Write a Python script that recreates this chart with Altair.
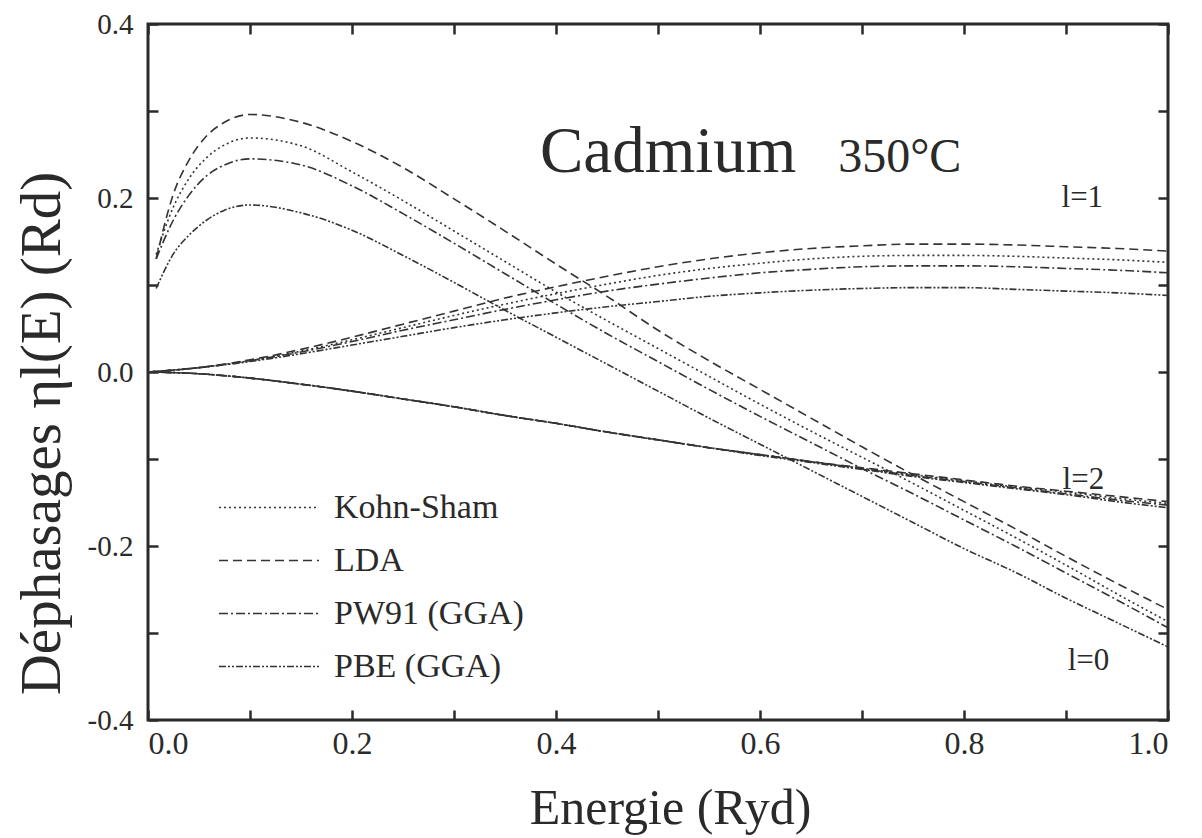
import altair as alt
import pandas as pd

FONT = "Liberation Serif"
INK = "#2a2a2a"

methods = ["Kohn-Sham", "LDA", "PW91 (GGA)", "PBE (GGA)"]
dash_patterns = [[2, 3], [9, 5], [9, 3, 2, 3], [7, 2, 2, 2, 2, 2]]

# energy grids (Ryd)
E_l0 = [0.008, 0.025, 0.04, 0.058, 0.075, 0.1, 0.15, 0.2, 0.25, 0.3, 0.35, 0.4,
        0.45, 0.5, 0.55, 0.6, 0.65, 0.7, 0.75, 0.8, 0.85, 0.9, 0.95, 1.0]
E_grid = [0.0, 0.05, 0.1, 0.15, 0.2, 0.25, 0.3, 0.35, 0.4, 0.45, 0.5, 0.55,
          0.6, 0.65, 0.7, 0.75, 0.8, 0.85, 0.9, 0.95, 1.0]

# l = 0 phase shifts
KS_l0 = [0.135, 0.19, 0.222, 0.247, 0.261, 0.269, 0.26, 0.23, 0.197, 0.162, 0.127, 0.092,
         0.059, 0.027, -0.005, -0.037, -0.068, -0.098, -0.128, -0.159, -0.19, -0.222, -0.255, -0.287]
LDA_l0 = [0.13, 0.205, 0.243, 0.272, 0.287, 0.296, 0.287, 0.265, 0.235, 0.199, 0.162, 0.124,
          0.087, 0.048, 0.013, -0.02, -0.053, -0.086, -0.118, -0.149, -0.18, -0.212, -0.243, -0.273]
PW91_l0 = [0.13, 0.175, 0.203, 0.226, 0.238, 0.245, 0.238, 0.214, 0.182, 0.148, 0.113, 0.078,
           0.044, 0.012, -0.02, -0.051, -0.081, -0.111, -0.14, -0.17, -0.2, -0.231, -0.262, -0.294]
PBE_l0 = [0.096, 0.136, 0.157, 0.175, 0.186, 0.192, 0.183, 0.163, 0.134, 0.103, 0.071, 0.04,
          0.009, -0.022, -0.053, -0.083, -0.113, -0.143, -0.173, -0.203, -0.23, -0.26, -0.288, -0.316]

# l = 1 phase shifts
KS_l1 = [0, 0.005, 0.013, 0.024, 0.037, 0.051, 0.065, 0.078, 0.09, 0.101, 0.111, 0.119,
         0.125, 0.13, 0.133, 0.134, 0.134, 0.133, 0.131, 0.129, 0.126]
LDA_l1 = [0, 0.005, 0.014, 0.026, 0.04, 0.055, 0.07, 0.085, 0.098, 0.11, 0.121, 0.13,
          0.137, 0.142, 0.145, 0.147, 0.147, 0.146, 0.144, 0.142, 0.139]
PW91_l1 = [0, 0.005, 0.013, 0.023, 0.035, 0.048, 0.06, 0.072, 0.083, 0.093, 0.101, 0.108,
           0.114, 0.118, 0.121, 0.122, 0.122, 0.121, 0.119, 0.117, 0.114]
PBE_l1 = [0, 0.005, 0.012, 0.021, 0.031, 0.041, 0.051, 0.06, 0.068, 0.075, 0.081, 0.087,
          0.091, 0.094, 0.096, 0.097, 0.097, 0.095, 0.093, 0.091, 0.088]

# l = 2 phase shifts
KS_l2 = [0, -0.002, -0.007, -0.014, -0.022, -0.031, -0.04, -0.05, -0.059, -0.069, -0.078, -0.087,
         -0.095, -0.103, -0.111, -0.118, -0.125, -0.132, -0.138, -0.145, -0.151]
LDA_l2 = [0, -0.002, -0.007, -0.014, -0.022, -0.031, -0.04, -0.05, -0.059, -0.069, -0.078, -0.087,
          -0.095, -0.103, -0.11, -0.117, -0.124, -0.131, -0.137, -0.143, -0.149]
PW91_l2 = [0, -0.002, -0.007, -0.014, -0.022, -0.031, -0.04, -0.05, -0.059, -0.069, -0.078, -0.087,
           -0.095, -0.103, -0.111, -0.119, -0.126, -0.133, -0.14, -0.147, -0.153]
PBE_l2 = [0, -0.002, -0.007, -0.014, -0.022, -0.031, -0.04, -0.05, -0.059, -0.069, -0.078, -0.087,
          -0.096, -0.104, -0.112, -0.12, -0.127, -0.134, -0.141, -0.149, -0.156]

series = {
    "Kohn-Sham": (KS_l0, KS_l1, KS_l2),
    "LDA": (LDA_l0, LDA_l1, LDA_l2),
    "PW91 (GGA)": (PW91_l0, PW91_l1, PW91_l2),
    "PBE (GGA)": (PBE_l0, PBE_l1, PBE_l2),
}

rows = []
for m, (s0, s1, s2) in series.items():
    for e, v in zip(E_l0, s0):
        rows.append({"method": m, "l": "l=0", "E": e, "phase": v})
    for e, v in zip(E_grid, s1):
        rows.append({"method": m, "l": "l=1", "E": e, "phase": v})
    for e, v in zip(E_grid, s2):
        rows.append({"method": m, "l": "l=2", "E": e, "phase": v})
df = pd.DataFrame(rows)

# annotations
ann_text = ["Cadmium", "350°C", "l=1", "l=2", "l=0"]
ann_E = [0.51, 0.737, 0.916, 0.917, 0.922]
ann_phase = [0.23, 0.23, 0.19, -0.134, -0.342]
ann_size = [65, 48, 31, 31, 31]
ann = pd.DataFrame({"text": ann_text, "E": ann_E, "phase": ann_phase, "fs": ann_size})

x_ticks = [round(i * 0.1, 1) for i in range(11)]
y_ticks = [round(-0.4 + i * 0.1, 1) for i in range(9)]

x_scale = alt.Scale(domain=[0, 1], nice=False, zero=False)
y_scale = alt.Scale(domain=[-0.4, 0.4], nice=False, zero=False)

label_expr = ("round(datum.value*10) % 2 == 0 ? "
              "(datum.value < -0.001 ? '-' : '') + format(abs(datum.value), '.1f') : ''")

tick_style = dict(tickSize=10, tickWidth=2.5, tickColor=INK, domain=False, grid=False, offset=-10)

lines = alt.Chart(df).mark_line(strokeWidth=1.6, color="#333", interpolate="monotone").encode(
    x=alt.X("E:Q", scale=x_scale, axis=alt.Axis(
        orient="bottom", values=x_ticks, labelExpr=label_expr,
        labelFont=FONT, labelFontSize=32, labelColor=INK, labelPadding=8,
        title="Energie (Ryd)", titleFont=FONT, titleFontSize=50, titleFontWeight="normal",
        titleColor=INK, titleX=522, titleY=98, titleBaseline="middle", titleAlign="center",
        **tick_style)),
    y=alt.Y("phase:Q", scale=y_scale, axis=alt.Axis(
        orient="left", values=y_ticks, labelExpr=label_expr,
        labelFont=FONT, labelFontSize=29, labelColor=INK, labelPadding=15,
        title="Déphasages ηl(E) (Rd)", titleFont=FONT, titleFontSize=57, titleFontWeight="normal",
        titleColor=INK, titleX=-116, titleY=409, titleAngle=-90, titleBaseline="middle",
        titleAlign="center", **tick_style)),
    strokeDash=alt.StrokeDash("method:N", sort=methods,
                              scale=alt.Scale(domain=methods, range=dash_patterns),
                              legend=alt.Legend(orient="none", legendX=70, legendY=457, title=None,
                                                symbolType="stroke", symbolSize=10000,
                                                symbolStrokeWidth=1.6, symbolStrokeColor="#333",
                                                labelFont=FONT, labelFontSize=34, labelColor=INK,
                                                labelOffset=14, clipHeight=53, rowPadding=0,
                                                padding=0, labelLimit=400)),
    detail="l:N",
)

mirror = alt.Chart(df).mark_line(opacity=0).encode(
    x=alt.X("E:Q", scale=x_scale, axis=alt.Axis(orient="top", values=x_ticks, labels=False,
                                                title=None, **tick_style)),
    y=alt.Y("phase:Q", scale=y_scale, axis=alt.Axis(orient="right", values=y_ticks, labels=False,
                                                    title=None, **tick_style)),
    detail="l:N",
    strokeDash=alt.StrokeDash("method:N", legend=None),
)

texts = alt.Chart(ann).mark_text(font=FONT, align="center", baseline="alphabetic", color=INK).encode(
    x=alt.X("E:Q", scale=x_scale, axis=None),
    y=alt.Y("phase:Q", scale=y_scale, axis=None),
    text="text:N",
    size=alt.Size("fs:Q", scale=None, legend=None),
)

chart = alt.layer(lines, mirror, texts).resolve_axis(x="independent", y="independent").properties(
    width=1020, height=696,
    autosize=alt.AutoSizeParams(type="none"),
    padding={"left": 140, "top": 16, "right": 26, "bottom": 118},
    background="white",
).configure_view(stroke=INK, strokeWidth=3)

chart.save("out.html", embed_options={"renderer": "svg", "actions": False})
